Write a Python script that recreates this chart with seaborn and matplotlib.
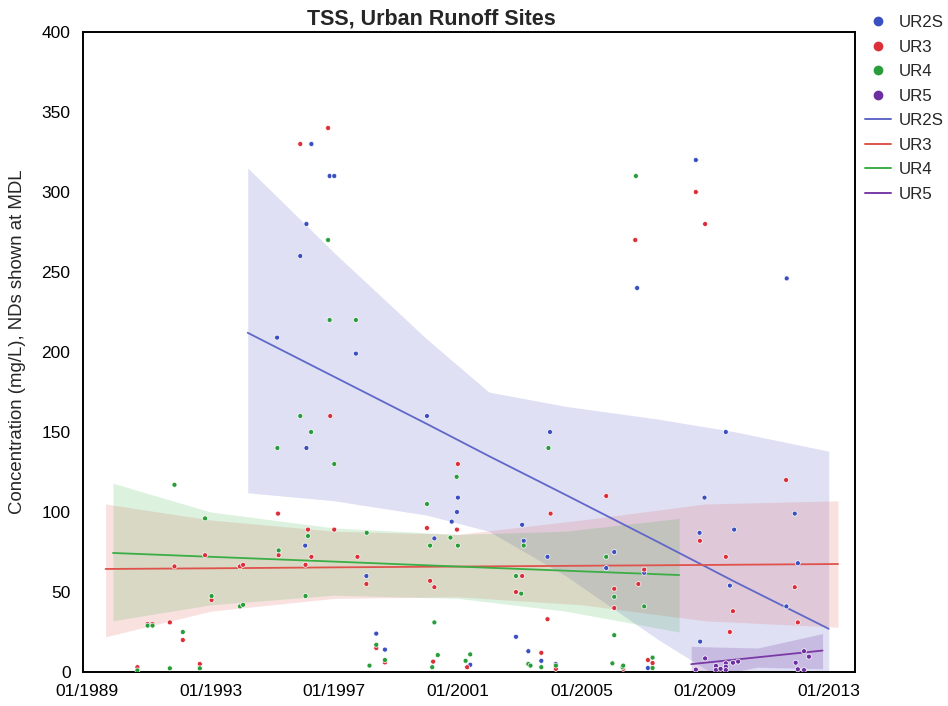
import numpy as np
import pandas as pd
import matplotlib
matplotlib.use("Agg")
import matplotlib.pyplot as plt
import seaborn as sns
from matplotlib.lines import Line2D

# ---- data: sample dates (decimal years) and TSS concentrations (mg/L) ----
sites = ["UR2S", "UR3", "UR4", "UR5"]

ur2s_date = [1995.15, 1995.9, 1996.1, 1996.26, 1996.85, 1997.0, 1997.7, 1996.1,
             1996.06, 1998.04, 1998.36, 1998.64, 2000.0, 2000.24, 2000.8, 2000.97,
             2001.0, 2001.4, 2003.08, 2003.13, 2003.98, 2003.9, 2002.88, 2003.28,
             2003.35, 2003.7, 2004.17, 2005.8, 2006.06, 2006.8, 2007.03, 2007.15,
             2008.7, 2008.84, 2008.82, 2008.98, 2009.67, 2009.94, 2009.8, 2011.64,
             2011.63, 2011.9, 2012.0]
ur2s_tss = [209, 260, 280, 330, 310, 310, 199, 140,
            79, 60, 24, 14, 160, 83.5, 94, 100,
            109, 4.5, 92, 82, 150, 72, 22, 13,
            4, 7, 5, 65, 75, 240, 62, 2.5,
            320, 19, 87, 109, 150, 89, 54, 246,
            41, 99, 68]

ur3_date = [1990.63, 1990.96, 1991.12, 1991.68, 1991.83, 1992.1, 1992.65, 1992.82,
            1993.03, 1993.95, 1994.05, 1995.18, 1995.2, 1995.9, 1996.07, 1996.15,
            1996.26, 1996.8, 1996.87, 1997.0, 1997.75, 1998.04, 1998.36, 1998.64,
            2000.0, 2000.1, 2000.2, 2000.24, 2000.97, 2001.0, 2001.3, 2002.88,
            2003.08, 2003.7, 2003.9, 2004.0, 2004.17, 2005.8, 2006.06, 2006.06,
            2006.35, 2006.74, 2006.84, 2007.03, 2007.15, 2007.3, 2008.7, 2008.83,
            2009.0, 2009.67, 2009.8, 2009.9, 2011.62, 2011.9, 2012.0]
ur3_tss = [3, 30, 30, 31, 66, 20, 5, 73,
           45, 66, 67, 99, 73, 330, 67, 89,
           72, 340, 160, 89, 72, 55, 15, 6,
           90, 57, 6.5, 53, 89, 130, 3, 50,
           60, 12, 33, 99, 2, 110, 52, 40,
           2, 270, 55, 64, 7.5, 5.6, 300, 82,
           280, 72, 25, 38, 120, 53, 31]

ur4_date = [1990.63, 1990.96, 1991.12, 1991.68, 1991.83, 1992.1, 1992.65, 1992.82,
            1993.03, 1993.95, 1994.05, 1995.16, 1995.2, 1995.9, 1996.07, 1996.15,
            1996.25, 1996.8, 1996.85, 1997.0, 1997.7, 1998.05, 1998.14, 1998.36,
            1998.64, 2000.0, 2000.1, 2000.17, 2000.24, 2000.35, 2000.76, 2000.96,
            2001.0, 2001.25, 2001.4, 2002.88, 2003.05, 2003.13, 2003.28, 2003.35,
            2003.7, 2003.93, 2004.17, 2005.8, 2006.0, 2006.06, 2006.06, 2006.33,
            2006.35, 2006.76, 2007.03, 2007.3, 2007.3]
ur4_tss = [1, 29, 29, 2.3, 117, 25, 2.3, 96,
           47.5, 41, 42, 140, 76, 160, 47.5, 85,
           150, 270, 220, 130, 220, 87, 4, 17,
           7.5, 105, 79, 3, 31, 10.6, 84, 122,
           79, 7, 11, 60, 49, 79, 5, 4,
           3, 140, 4, 72, 5.4, 47, 23, 3,
           4, 310, 41, 9, 2.5]

ur5_date = [2008.7, 2009.0, 2009.35, 2009.35, 2009.5, 2009.67, 2009.67, 2009.67,
            2009.9, 2010.07, 2011.93, 2012.0, 2012.2, 2012.2, 2012.36]
ur5_tss = [1.5, 8.5, 3.8, 1.25, 2, 5.4, 3.3, 1.2,
           5.8, 6.5, 5.8, 1.7, 1.2, 13, 9.6]

# ---- trend estimates with lower / upper confidence limits (mg/L) ----
ur2s_trend_date = [1994.2, 1997.0, 2000.0, 2002.0, 2004.5, 2007.5, 2010.0, 2013.0]
ur2s_trend = [212, 184.5, 155, 135, 110.6, 81, 56, 27]
ur2s_trend_low = [112, 107, 98, 88, 60, 20, -10, -60]
ur2s_trend_high = [315, 262, 208, 175, 166, 158, 150, 138]

ur3_trend_date = [1989.6, 1993.0, 1997.0, 2001.0, 2005.0, 2009.0, 2013.3]
ur3_trend = [64.4, 64.8, 65.4, 65.9, 66.4, 66.9, 67.5]
ur3_trend_low = [22, 38, 46, 47, 42, 32, 28]
ur3_trend_high = [105, 95, 88, 86, 95, 105, 107]

ur4_trend_date = [1989.84, 1993.0, 1997.0, 2001.0, 2004.5, 2008.16]
ur4_trend = [74.4, 72.0, 69.0, 65.9, 63.3, 60.6]
ur4_trend_low = [32, 42, 48, 46, 38, 25]
ur4_trend_high = [118, 100, 90, 86, 88, 96]

ur5_trend_date = [2008.55, 2010.7, 2012.8]
ur5_trend = [4.9, 9.2, 13.4]
ur5_trend_low = [-5, 3, 2]
ur5_trend_high = [16, 15, 24]

year_ticks = list(range(1989, 2014, 2))
year_labels = ["01/1989", "", "01/1993", "", "01/1997", "", "01/2001", "",
               "01/2005", "", "01/2009", "", "01/2013"]
conc_ticks = list(range(0, 401, 50))

point_colors = ["#3a4fc0", "#dc2f3a", "#2a9d3a", "#6c2ea0"]
line_colors = ["#5f68c8", "#e0524c", "#3aae44", "#7a3aa6"]
band_alpha = [0.2, 0.17, 0.17, 0.22]

samples = pd.concat([
    pd.DataFrame({"date": d, "tss": v, "site": s})
    for s, d, v in zip(sites,
                       [ur2s_date, ur3_date, ur4_date, ur5_date],
                       [ur2s_tss, ur3_tss, ur4_tss, ur5_tss])
], ignore_index=True)

trends = pd.concat([
    pd.DataFrame({"date": d, "fit": f, "low": lo, "high": hi, "site": s})
    for s, d, f, lo, hi in zip(
        sites,
        [ur2s_trend_date, ur3_trend_date, ur4_trend_date, ur5_trend_date],
        [ur2s_trend, ur3_trend, ur4_trend, ur5_trend],
        [ur2s_trend_low, ur3_trend_low, ur4_trend_low, ur5_trend_low],
        [ur2s_trend_high, ur3_trend_high, ur4_trend_high, ur5_trend_high])
], ignore_index=True)

# ---- figure ----
sns.set_style("white")
plt.rcParams["font.family"] = ["Liberation Sans", "DejaVu Sans"]

fig = plt.figure(figsize=(9.48, 7.06), dpi=100)
ax = fig.add_axes([83 / 948, 1 - 672 / 706, (855 - 83) / 948, (672 - 32) / 706])

# confidence bands
for i, s in enumerate(sites):
    t = trends[trends["site"] == s]
    ax.fill_between(t["date"], t["low"], t["high"], color=line_colors[i],
                    alpha=band_alpha[i], lw=0, zorder=1)

# trend lines
sns.lineplot(data=trends, x="date", y="fit", hue="site", hue_order=sites,
             palette=line_colors, estimator=None, sort=True, lw=1.3,
             legend=False, ax=ax, zorder=3)

# sample points on top
sns.scatterplot(data=samples, x="date", y="tss", hue="site", hue_order=sites,
                palette=point_colors, s=13, edgecolor="white", linewidth=0.5,
                legend=False, ax=ax, zorder=4)

ax.set_xlim(1988.87, 2013.85)
ax.set_ylim(0, 400)
ax.set_xticks(year_ticks)
ax.set_xticklabels(year_labels)
ax.set_yticks(conc_ticks)
ax.set_xlabel("")
ax.set_ylabel("")
ax.tick_params(axis="both", direction="out", length=6, width=1.4,
               labelsize=12.5, colors="black", pad=3)
for sp in ax.spines.values():
    sp.set_visible(True)
    sp.set_color("black")
    sp.set_linewidth(1.4)

fig.text(431 / 948, 1 - 19 / 706, "TSS, Urban Runoff Sites", ha="center",
         va="center", fontsize=15.5, fontweight="bold")
fig.text(18 / 948, 1 - 342 / 706, "Concentration (mg/L), NDs shown at MDL",
         rotation=90, ha="center", va="center", fontsize=13.4)

handles = [Line2D([], [], ls="none", marker="o", ms=6, color=c) for c in point_colors]
handles += [Line2D([], [], color=c, lw=1.4) for c in line_colors]
ax.legend(handles=handles, labels=sites + sites, loc="upper left",
          bbox_to_anchor=(1.0, 1.042), frameon=False, fontsize=12.2,
          handlelength=1.55, handletextpad=0.45, labelspacing=0.56,
          borderaxespad=0.2)

fig.savefig("out.png", dpi=100)
